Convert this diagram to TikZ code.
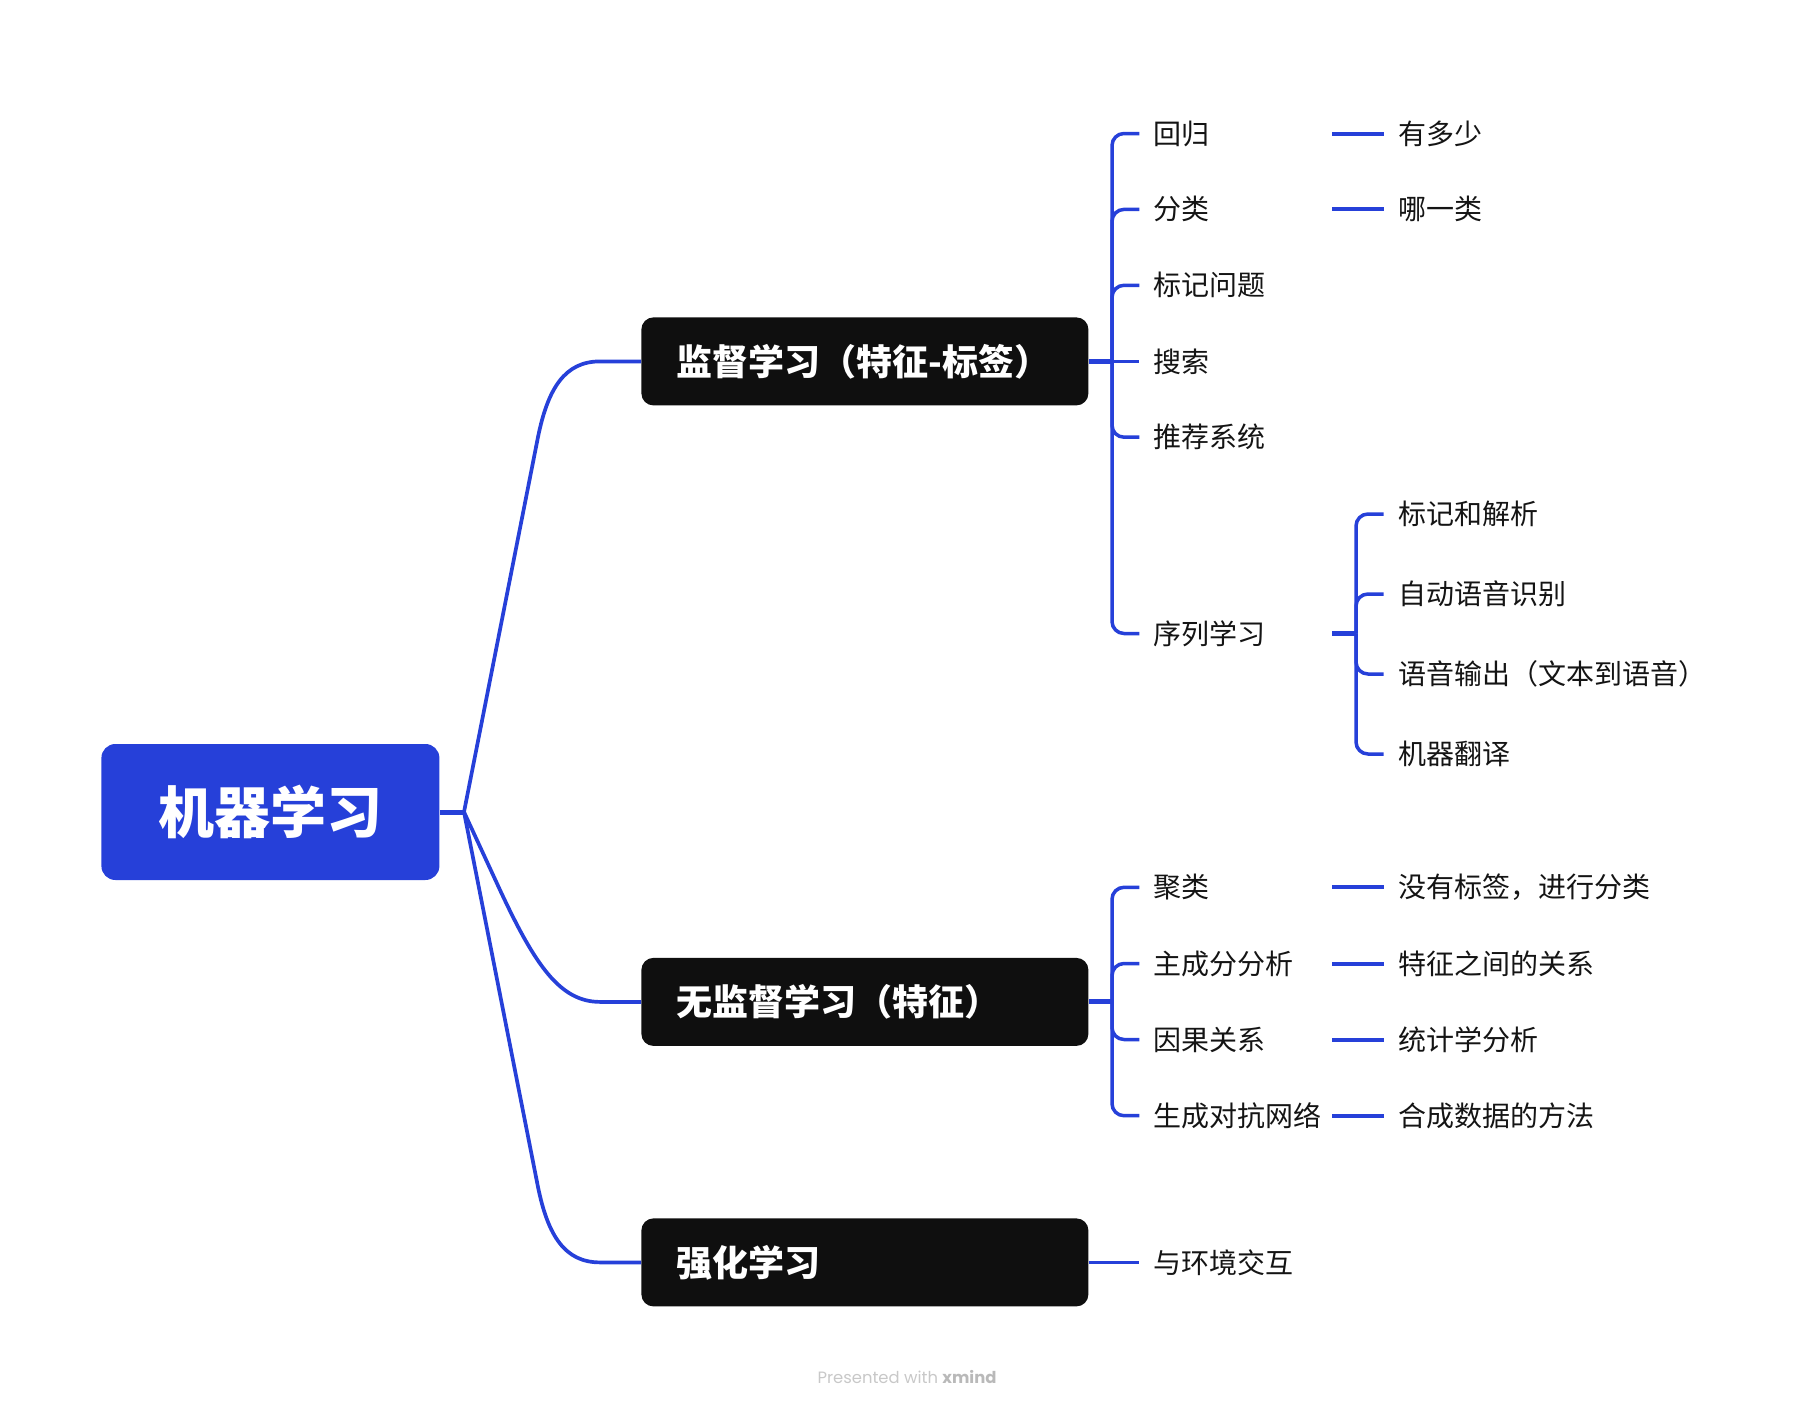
\documentclass[tikz,border=0pt]{standalone}
\usepackage{fontspec}
\setmainfont{Noto Sans CJK SC}
\newfontfamily\footfont{Poppins}
\definecolor{xblue}{RGB}{38,64,217}
\definecolor{xblack}{RGB}{15,15,15}
\definecolor{xtext}{RGB}{20,20,20}
\definecolor{xfoot}{RGB}{200,200,200}
\definecolor{xfootb}{RGB}{185,185,185}
\begin{document}
\begin{tikzpicture}[x=0.5pt,y=-0.5pt,
 branch/.style={draw=xblue, line width=1.85pt},
 bracket/.style={draw=xblue, line width=1.75pt, rounded corners=6pt},
 trunk/.style={draw=xblue, line width=2.5pt},
 leafline/.style={draw=xblue, line width=2pt},
 rootbox/.style={fill=xblue, rounded corners=7pt, minimum width=169pt, minimum height=68pt, text=white, font=\bfseries\fontsize{28}{30}\selectfont, inner sep=0pt},
 mainbox/.style={fill=xblack, rounded corners=6pt, minimum height=44pt, text width=188.5pt, inner xsep=17.5pt, inner ysep=0pt, align=left, text=white, font=\bfseries\fontsize{18}{20}\selectfont, anchor=west},
 leaf/.style={anchor=west, inner xsep=7pt, inner ysep=0pt, font=\fontsize{14}{16}\selectfont, text=xtext},
]
\useasboundingbox (0,0) rectangle (1816,1408);

% root and main boxes
\node[rootbox] (root) at (270.4,812) {机器学习};
\node[mainbox] (sup) at (641,361.4) {监督学习（特征-标签）};
\node[mainbox] (uns) at (641,1001.9) {无监督学习（特征）};
\node[mainbox] (rl) at (641,1262.4) {强化学习};

\coordinate (J) at (464,812);
\draw[trunk] (root.east) -- (J);
\draw[branch] (J) -- (538,437) .. controls (548,388) and (565,361.4) .. (600,361.4) -- (sup.west);
\draw[branch] (J) -- (500,890) .. controls (535,965) and (560,1001.9) .. (600,1001.9) -- (uns.west);
\draw[branch] (J) -- (538,1187) .. controls (548,1236) and (565,1262.4) .. (600,1262.4) -- (rl.west);

% supervised children
\coordinate (sj) at (1112,361.4);
\draw[trunk] (sup.east) -- (sj);
\node[leaf] (s1) at (1139.4,133.5) {回归};
\node[leaf] (s2) at (1139.4,209.4) {分类};
\node[leaf] (s3) at (1139.4,285.3) {标记问题};
\node[leaf] (s4) at (1139.4,361.4) {搜索};
\node[leaf] (s5) at (1139.4,437.2) {推荐系统};
\node[leaf] (s6) at (1139.4,633.5) {序列学习};
\foreach \n in {s1,s2,s3,s5,s6} \draw[bracket] (sj) -- (sj |- \n) -- (\n.west);
\draw[bracket] (sj) -- (s4.west);

% supervised grandchildren
\node[leaf] (g1) at (1383.6,133.5) {有多少};
\node[leaf] (g2) at (1383.6,209.4) {哪一类};
\coordinate (gj1) at (1332,133.5);
\coordinate (gj2) at (1332,209.4);
\draw[leafline] (gj1) -- (g1.west);
\draw[leafline] (gj2) -- (g2.west);

\coordinate (qj0) at (1332,633.5);
\coordinate (qj) at (1356,633.5);
\draw[trunk] (qj0) -- (qj);
\node[leaf] (q1) at (1383.6,514) {标记和解析};
\node[leaf] (q2) at (1383.6,594) {自动语音识别};
\node[leaf] (q3) at (1383.6,674) {语音输出（文本到语音）};
\node[leaf] (q4) at (1383.6,754) {机器翻译};
\foreach \n in {q1,q2,q3,q4} \draw[bracket] (qj) -- (qj |- \n) -- (\n.west);

% unsupervised children
\coordinate (uj) at (1112,1001.9);
\draw[trunk] (uns.east) -- (uj);
\node[leaf] (u1) at (1139.4,887.3) {聚类};
\node[leaf] (u2) at (1139.4,963.5) {主成分分析};
\node[leaf] (u3) at (1139.4,1039.5) {因果关系};
\node[leaf] (u4) at (1139.4,1115.7) {生成对抗网络};
\foreach \n in {u1,u2,u3,u4} \draw[bracket] (uj) -- (uj |- \n) -- (\n.west);

\node[leaf] (v1) at (1383.6,887.3) {没有标签，进行分类};
\node[leaf] (v2) at (1383.6,963.5) {特征之间的关系};
\node[leaf] (v3) at (1383.6,1039.5) {统计学分析};
\node[leaf] (v4) at (1383.6,1115.7) {合成数据的方法};
\coordinate (vj1) at (1332,887.3);
\coordinate (vj2) at (1332,963.5);
\coordinate (vj3) at (1332,1039.5);
\coordinate (vj4) at (1332,1115.7);
\draw[leafline] (vj1) -- (v1.west);
\draw[leafline] (vj2) -- (v2.west);
\draw[leafline] (vj3) -- (v3.west);
\draw[leafline] (vj4) -- (v4.west);

% reinforcement
\node[leaf] (r1) at (1139.4,1262.4) {与环境交互};
\draw[branch] (rl.east) -- (r1.west);

% footer
\node[font=\footfont\fontsize{8.2}{10}\selectfont, text=xfoot, inner sep=0pt] (foot) at (907,1377) {Presented with {\bfseries\color{xfootb}xmind}};
\end{tikzpicture}
\end{document}
